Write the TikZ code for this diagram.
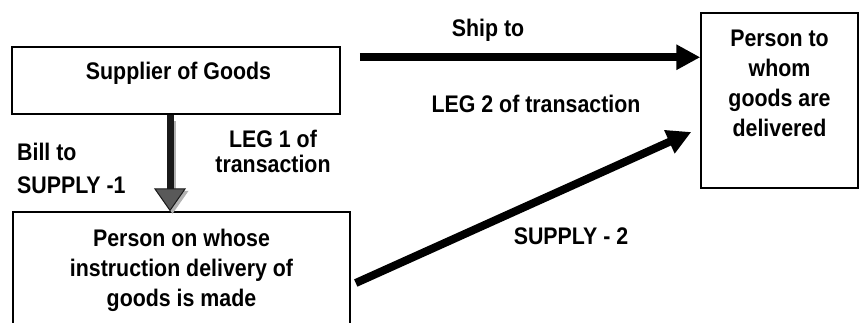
\documentclass[tikz,border=0pt]{standalone}
\usepackage{fontspec}
\setmainfont[FakeStretch=0.89]{Liberation Sans}
\usetikzlibrary{arrows.meta,positioning}
\tikzset{
    box/.style={draw, line width=1.5pt, inner sep=0pt},
    lbl/.style={font=\bfseries\fontsize{24}{30}\selectfont, align=center, inner sep=0pt},
    fat/.style={line width=8pt, -{Triangle[length=24pt,width=24pt]}},
    billed/.style={line width=7pt, draw=black!90, -{Triangle[length=23pt,width=32pt,fill=black!65,line width=1pt]}},
    billshadow/.style={line width=7pt, draw=black!30, -{Triangle[length=23pt,width=32pt,line width=1pt]}, transform canvas={xshift=2.5pt,yshift=-2.5pt}},
}

\begin{document}
\begin{tikzpicture}[x=1pt,y=-1pt]
            \useasboundingbox (0,0) rectangle (859,322);
            \clip (0,0) rectangle (859,322);
            \node[box, minimum width=328pt, minimum height=67pt] (sup) at (176,80.5) {};
            \node[box, minimum width=337pt, minimum height=128pt] (instr) at (181.5,276) {};
            \node[box, minimum width=157pt, minimum height=175pt] (dest) at (779.5,100.5) {};
            \node[lbl, below=15.5pt of sup.north, xshift=2.5pt] (sup-txt) {Supplier of Goods};
            \node[lbl, below=17.5pt of instr.north] (instr-txt) {Person on whose\\instruction delivery of\\goods is made};
            \node[lbl, below=17.5pt of dest.north] (dest-txt) {Person to\\whom\\goods are\\delivered};
            \node[lbl, anchor=north] (shipto) at (488,18.5) {Ship to};
            \node[lbl, anchor=north] (leg2) at (536,95) {LEG 2 of transaction};
            \node[lbl, anchor=north] (leg1) at (273,129.5) {LEG 1 of\\[-5pt]transaction};
            \node[lbl, anchor=north west, align=left] (billto) at (17,142.5) {Bill to\\[3pt]SUPPLY -1};
            \node[lbl, anchor=north] (supply2) at (571,227.5) {SUPPLY - 2};
            \draw[fat] ([xshift=19pt,yshift=-11pt]sup.north east) -- ([yshift=-45pt]dest.north west);
            \draw[fat] ([xshift=5pt,yshift=-7pt]instr.east) -- ([xshift=-9pt,yshift=-31.5pt]dest.west);
            \draw[billshadow] ([xshift=-6pt,yshift=-4pt]sup.south) -- ([xshift=-6pt]sup.south |- instr.north);
            \draw[billed] ([xshift=-6pt]sup.south) -- ([xshift=-6pt]sup.south |- instr.north);
\end{tikzpicture}
\end{document}
